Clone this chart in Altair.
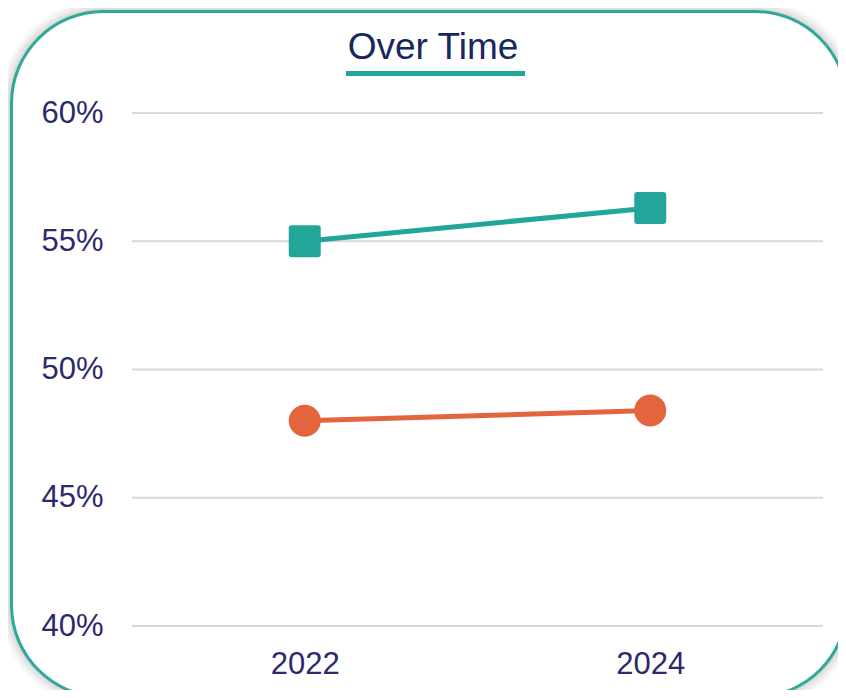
import altair as alt
import pandas as pd

# ---- data ----
years = ["2022", "2024"]
series_names = ["Series 1", "Series 2"]
teal_values = [0.550, 0.563]
orange_values = [0.480, 0.484]
y_ticks = [0.40, 0.45, 0.50, 0.55, 0.60]
title_text = "Over Time"

TEAL = "#22a699"
ORANGE = "#e2653e"
LABEL_COLOR = "#2b2a6b"
TITLE_COLOR = "#18275e"
GRID_COLOR = "#d9d9d9"
FONT = "Liberation Sans, Arial, sans-serif"

ROUNDED_SQUARE = ("M -0.82,-1 L 0.82,-1 Q 1,-1 1,-0.82 L 1,0.82 Q 1,1 0.82,1 "
                  "L -0.82,1 Q -1,1 -1,0.82 L -1,-0.82 Q -1,-1 -0.82,-1 Z")

rows = []
for yr, v in zip(years, teal_values):
    rows.append({"year": yr, "series": series_names[0], "value": v})
for yr, v in zip(years, orange_values):
    rows.append({"year": yr, "series": series_names[1], "value": v})
df = pd.DataFrame(rows)
grid_df = pd.DataFrame({"tick": y_ticks})
one = pd.DataFrame({"k": [0]})

W, H = 691, 513

x_enc = alt.X("year:O", scale=alt.Scale(type="point", padding=0.5),
              axis=alt.Axis(labelAngle=0, domain=False, ticks=False, grid=False,
                            labelFont=FONT, labelFontSize=31, labelColor=LABEL_COLOR,
                            labelPadding=23, title=None, zindex=1))
y_scale = alt.Scale(domain=[0.40, 0.60], nice=False, zero=False)
y_enc = alt.Y("value:Q", scale=y_scale,
              axis=alt.Axis(values=y_ticks, format=".0%", domain=False, ticks=False, grid=False,
                            labelFont=FONT, labelFontSize=31, labelColor=LABEL_COLOR,
                            labelPadding=29, title=None, zindex=1))
color_enc = alt.Color("series:N", scale=alt.Scale(domain=series_names, range=[TEAL, ORANGE]), legend=None)
shape_enc = alt.Shape("series:N", scale=alt.Scale(domain=series_names, range=[ROUNDED_SQUARE, "circle"]), legend=None)

# frame geometry (decoration, in plot-relative pixels)
FL, FT, FR, FB, RAD = -120.5, -101.5, 715, 584, 92

shadows = []
for d, op in [(12, 0.025), (9, 0.035), (6, 0.045), (3, 0.06)]:
    shadows.append(
        alt.Chart(one).mark_rect(cornerRadius=RAD + d, fill="#000000", fillOpacity=op).encode(
            x=alt.value(FL - d), x2=alt.value(FR + d), y=alt.value(FT - d), y2=alt.value(FB + d)))

frame = alt.Chart(one).mark_rect(cornerRadius=RAD, fill="white", stroke="#2ea89a", strokeWidth=3).encode(
    x=alt.value(FL), x2=alt.value(FR), y=alt.value(FT), y2=alt.value(FB))

grid = alt.Chart(grid_df).mark_rule(color=GRID_COLOR, strokeWidth=2).encode(
    y=alt.Y("tick:Q", scale=y_scale), x=alt.value(0), x2=alt.value(W))

lines = alt.Chart(df).mark_line(strokeWidth=5).encode(x=x_enc, y=y_enc, color=color_enc)
points = alt.Chart(df).mark_point(filled=True, size=1024, opacity=1).encode(
    x=x_enc, y=y_enc, color=color_enc, shape=shape_enc)

title = alt.Chart(one).mark_text(text=title_text, font=FONT, fontSize=37, color=TITLE_COLOR,
                                 align="center", baseline="alphabetic").encode(
    x=alt.value(301), y=alt.value(-54))
underline = alt.Chart(one).mark_rule(color=TEAL, strokeWidth=5).encode(
    x=alt.value(214), x2=alt.value(393), y=alt.value(-39.5))

chart = alt.layer(*shadows, frame, grid, lines, points, title, underline).properties(
    width=W, height=H,
    autosize=alt.AutoSizeParams(type="none"),
    padding={"left": 124, "top": 105, "right": 15, "bottom": 64},
).configure_view(strokeWidth=0)

chart.save("out.html", embed_options={"renderer": "svg", "actions": False})
